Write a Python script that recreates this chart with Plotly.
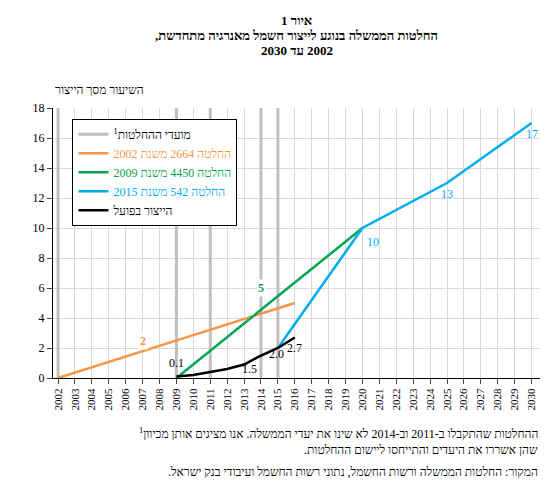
import plotly.graph_objects as go

years = list(range(2002, 2031))
orange_x = [2002, 2016]; orange_y = [0, 5]
green_x = [2009, 2020]; green_y = [0, 10]
blue_x = [2015, 2020, 2025, 2030]; blue_y = [2, 10, 13, 17]
black_x = [2009, 2010, 2011, 2012, 2013, 2014, 2015, 2016]
black_y = [0.1, 0.2, 0.4, 0.6, 0.9, 1.5, 2.0, 2.7]
decision_years = [2002, 2009, 2011, 2014, 2015]

ORANGE = '#F79646'; GREEN = '#00A650'; BLUE = '#00AEEF'
FONT = 'Liberation Serif'

def rtl(s):
    return '\u202b' + s + '\u202c'

def cname(s, c):
    return f'<span style="color:{c}">{rtl(s)}</span>'

fig = go.Figure()
for i, yr in enumerate(decision_years):
    fig.add_trace(go.Scatter(x=[yr, yr], y=[0, 18], mode='lines',
        line=dict(color='#BFBFBF', width=3), name=rtl('מועדי ההחלטות') + '<sup>1</sup>',
        showlegend=(i == 0), hoverinfo='skip'))
fig.add_trace(go.Scatter(x=orange_x, y=orange_y, mode='lines',
    line=dict(color=ORANGE, width=2.5), name=cname('החלטה 2664 משנת 2002', ORANGE)))
fig.add_trace(go.Scatter(x=green_x, y=green_y, mode='lines',
    line=dict(color=GREEN, width=2.5), name=cname('החלטה 4450 משנת 2009', GREEN)))
fig.add_trace(go.Scatter(x=blue_x, y=blue_y, mode='lines',
    line=dict(color=BLUE, width=2.5), name=cname('החלטה 542 משנת 2015', BLUE)))
fig.add_trace(go.Scatter(x=black_x, y=black_y, mode='lines',
    line=dict(color='black', width=2.5), name=rtl('הייצור בפועל')))

ann = [
    (2007, 2.5, '2', ORANGE, True),
    (2014, 6, '5', GREEN, True),
    (2020.6, 9.1, '10', BLUE, False),
    (2025, 12.3, '13', BLUE, False),
    (2030, 16.3, '17', BLUE, False),
    (2009, 1.0, '0.1', 'black', False),
    (2013.3, 0.6, '1.5', 'black', False),
    (2014.9, 1.6, '2.0', 'black', False),
    (2016, 2.0, '2.7', 'black', False),
]
for x, y, t, c, b in ann:
    fig.add_annotation(x=x, y=y, text=f'<b>{t}</b>' if b else t, showarrow=False,
        font=dict(color=c, size=12, family=FONT), bgcolor='white' if b else None)

titles = ['איור 1', 'החלטות הממשלה בנוגע לייצור חשמל מאנרגיה מתחדשת,', '2002 עד 2030']
for i, t in enumerate(titles):
    fig.add_annotation(xref='paper', yref='paper', x=0.5, y=1.36 - i * 0.055, showarrow=False,
        text='<b>' + rtl(t) + '</b>', font=dict(size=13, family=FONT))
fig.add_annotation(xref='paper', yref='paper', x=0.0, y=1.1, xanchor='left', showarrow=False,
    text=rtl('השיעור מסך הייצור'), font=dict(size=12, family=FONT))
notes = ['ההחלטות שהתקבלו ב-2011 וב-2014 לא שינו את יעדי הממשלה. אנו מציגים אותן מכיוון',
         'שהן אשררו את היעדים והתייחסו ליישום ההחלטות.',
         'המקור: החלטות הממשלה ורשות החשמל, נתוני רשות החשמל ועיבודי בנק ישראל.']
for i, t in enumerate(notes):
    txt = rtl(t) + ('<sup>1</sup>' if i == 0 else '')
    fig.add_annotation(xref='paper', yref='paper', x=1.0, y=-0.17 - i * 0.065 - (0.015 if i == 2 else 0),
        xanchor='right', yanchor='top', showarrow=False, text=txt,
        font=dict(size=12, family=FONT))

fig.update_layout(
    width=550, height=488, plot_bgcolor='white', paper_bgcolor='white',
    margin=dict(l=45, r=18, t=100, b=118),
    font=dict(family=FONT, size=12, color='black'),
    xaxis=dict(range=[2001.7, 2030.5], tickvals=years, ticktext=[str(y) for y in years],
        tickangle=-90, showgrid=True, gridcolor='#D9D9D9', ticks='outside', tickfont=dict(size=11),
        showline=True, linecolor='black', zeroline=False),
    yaxis=dict(range=[0, 18], dtick=2, showgrid=True, gridcolor='#D9D9D9',
        ticks='outside', showline=True, linecolor='black', zeroline=False, tickfont=dict(size=12)),
    legend=dict(x=0.04, y=0.96, bordercolor='black', borderwidth=1, bgcolor='white',
        font=dict(size=12, family=FONT)),
    showlegend=True,
)
fig.write_html('out.html')
